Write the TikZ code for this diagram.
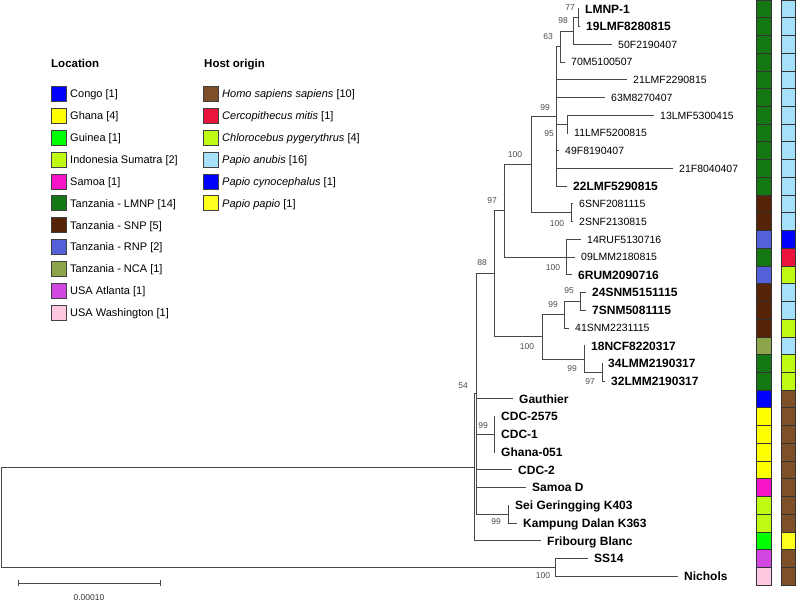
\documentclass[tikz,border=0pt]{standalone}
\usepackage{fontspec}
\setmainfont{Liberation Sans}

% location colours
\definecolor{cCongo}{RGB}{0,0,255}
\definecolor{cGhana}{RGB}{255,255,0}
\definecolor{cGuinea}{RGB}{0,255,0}
\definecolor{cSumatra}{RGB}{190,250,20}
\definecolor{cSamoa}{RGB}{245,20,200}
\definecolor{cLMNP}{RGB}{20,120,20}
\definecolor{cSNP}{RGB}{85,35,5}
\definecolor{cRNP}{RGB}{85,95,215}
\definecolor{cNCA}{RGB}{140,165,75}
\definecolor{cAtl}{RGB}{210,70,225}
\definecolor{cWash}{RGB}{255,200,225}
% host colours
\definecolor{hHomo}{RGB}{125,80,40}
\definecolor{hMitis}{RGB}{235,20,60}
\definecolor{hChloro}{RGB}{190,250,20}
\definecolor{hAnubis}{RGB}{165,225,250}
\definecolor{hCyno}{RGB}{0,0,255}
\definecolor{hPapio}{RGB}{255,255,30}

\tikzset{
  br/.style={draw=black!72, line width=0.9pt},
  lfr/.style={anchor=base west, inner sep=0pt, xshift=6pt, yshift=-3.8pt,
              font=\fontsize{10.5}{12}\selectfont},
  lfb/.style={anchor=base west, inner sep=0pt, xshift=6pt, yshift=-4.3pt,
              font=\fontsize{12}{14}\selectfont\bfseries},
  bs/.style={inner sep=0pt, font=\fontsize{8.5}{10}\selectfont, text=black!70},
  strip/.style={draw=black!80, line width=0.7pt},
  key/.style={draw=black!75, line width=0.8pt, minimum size=15pt, inner sep=0pt},
  ltxt/.style={anchor=base west, inner sep=0pt, font=\fontsize{11}{13}\selectfont},
  lhead/.style={anchor=base west, inner sep=0pt, font=\fontsize{11.5}{13}\selectfont\bfseries}
}

% tip coordinate plus its label: name, x, row, text, style
\newcommand{\treeleaf}[5]{%
  \coordinate (#1) at (#2,{17.73*(#3-0.5)});
  \node[#5] (#1-t) at (#1) {#4};}

\begin{document}
\begin{tikzpicture}[x=1pt,y=-1pt]
\useasboundingbox (0,0) rectangle (796,603);

% ---- internal nodes (x of split, y of incoming branch)
\coordinate (root) at (1,517.3);
\coordinate (n474) at (474,467.3);
\coordinate (n476) at (476,393.9);
\coordinate (n494) at (494,273.8);
\coordinate (n504) at (504,210.8);
\coordinate (n531) at (531,164.5);
\coordinate (n556) at (556,116.3);
\coordinate (n560) at (560,46.5);
\coordinate (n573) at (573,31);
\coordinate (n577) at (578,17.7);
\coordinate (n567) at (567,124.1);
\coordinate (nSNF) at (571,212.7);
\coordinate (nRUF) at (566,257);
\coordinate (n542) at (542,336.8);
\coordinate (n564) at (564,314.7);
\coordinate (n580) at (580,301.4);
\coordinate (n584) at (584,359);
\coordinate (n602) at (602,372.3);
\coordinate (nCDC) at (494,434.3);
\coordinate (nSei) at (508,514);
\coordinate (n555) at (555,567.3);

% ---- leaves
\treeleaf{LLMNP}{579}{1}{LMNP-1}{lfb}
\treeleaf{L19LMF}{580}{2}{19LMF8280815}{lfb}
\treeleaf{L50F}{612}{3}{50F2190407}{lfr}
\treeleaf{L70M}{565}{4}{70M5100507}{lfr}
\treeleaf{L21LMF}{627}{5}{21LMF2290815}{lfr}
\treeleaf{L63M}{605}{6}{63M8270407}{lfr}
\treeleaf{L13LMF}{654}{7}{13LMF5300415}{lfr}
\treeleaf{L11LMF}{568}{8}{11LMF5200815}{lfr}
\treeleaf{L49F}{559}{9}{49F8190407}{lfr}
\treeleaf{L21F}{673}{10}{21F8040407}{lfr}
\treeleaf{L22LMF}{567}{11}{22LMF5290815}{lfb}
\treeleaf{L6SNF}{573}{12}{6SNF2081115}{lfr}
\treeleaf{L2SNF}{573}{13}{2SNF2130815}{lfr}
\treeleaf{L14RUF}{581}{14}{14RUF5130716}{lfr}
\treeleaf{L09LMM}{575}{15}{09LMM2180815}{lfr}
\treeleaf{L6RUM}{572}{16}{6RUM2090716}{lfb}
\treeleaf{L24SNM}{586}{17}{24SNM5151115}{lfb}
\treeleaf{L7SNM}{586}{18}{7SNM5081115}{lfb}
\treeleaf{L41SNM}{569}{19}{41SNM2231115}{lfr}
\treeleaf{L18NCF}{585}{20}{18NCF8220317}{lfb}
\treeleaf{L34LMM}{602}{21}{34LMM2190317}{lfb}
\treeleaf{L32LMM}{605}{22}{32LMM2190317}{lfb}
\treeleaf{LGauthier}{513}{23}{Gauthier}{lfb}
\treeleaf{LCDCa}{495}{24}{CDC-2575}{lfb}
\treeleaf{LCDCb}{495}{25}{CDC-1}{lfb}
\treeleaf{LGhana}{495}{26}{Ghana-051}{lfb}
\treeleaf{LCDCc}{512}{27}{CDC-2}{lfb}
\treeleaf{LSamoa}{526}{28}{Samoa D}{lfb}
\treeleaf{LSei}{509}{29}{Sei Geringging K403}{lfb}
\treeleaf{LKampung}{517}{30}{Kampung Dalan K363}{lfb}
\treeleaf{LFribourg}{541}{31}{Fribourg Blanc}{lfb}
\treeleaf{LSS}{588}{32}{SS14}{lfb}
\treeleaf{LNichols}{678}{33}{Nichols}{lfb}

% ---- branches
\draw[br] (root) |- (n474);  \draw[br] (root) |- (n555);
\draw[br] (n474) |- (n476);  \draw[br] (n474) |- (LFribourg);
\foreach \c in {n494,LGauthier,nCDC,LCDCc,LSamoa,nSei} \draw[br] (n476) |- (\c);
\draw[br] (n494) |- (n504);  \draw[br] (n494) |- (n542);
\draw[br] (n504) |- (n531);  \draw[br] (n504) |- (nRUF);
\draw[br] (n531) |- (n556);  \draw[br] (n531) |- (nSNF);
\foreach \c in {n560,L21LMF,L63M,n567,L49F,L21F,L22LMF} \draw[br] (n556) |- (\c);
\draw[br] (n560) |- (n573);  \draw[br] (n560) |- (L70M);
\draw[br] (n573) |- (n577);  \draw[br] (n573) |- (L50F);
\draw[br] (n577) |- (LLMNP); \draw[br] (n577) |- (L19LMF);
\draw[br] (n567) |- (L13LMF); \draw[br] (n567) |- (L11LMF);
\draw[br] (nSNF) |- (L6SNF); \draw[br] (nSNF) |- (L2SNF);
\foreach \c in {L14RUF,L09LMM,L6RUM} \draw[br] (nRUF) |- (\c);
\draw[br] (n542) |- (n564);  \draw[br] (n542) |- (n584);
\draw[br] (n564) |- (n580);  \draw[br] (n564) |- (L41SNM);
\draw[br] (n580) |- (L24SNM); \draw[br] (n580) |- (L7SNM);
\draw[br] (n584) |- (L18NCF); \draw[br] (n584) |- (n602);
\draw[br] (n602) |- (L34LMM); \draw[br] (n602) |- (L32LMM);
\foreach \c in {LCDCa,LCDCb,LGhana} \draw[br] (nCDC) |- (\c);
\draw[br] (nSei) |- (LSei);  \draw[br] (nSei) |- (LKampung);
\draw[br] (n555) |- (LSS);   \draw[br] (n555) |- (LNichols);

% ---- bootstrap support values
\node[bs] (b77)  at (570,8)   {77};
\node[bs] (b98)  at (563,21)  {98};
\node[bs] (b63)  at (548,37)  {63};
\node[bs] (b99a) at (545,108) {99};
\node[bs] (b95a) at (549,134) {95};
\node[bs] (b100a) at (515,155) {100};
\node[bs] (b97a) at (492,201) {97};
\node[bs] (b100b) at (557,224) {100};
\node[bs] (b88)  at (482,263) {88};
\node[bs] (b100c) at (553,268) {100};
\node[bs] (b95b) at (569,291) {95};
\node[bs] (b99b) at (553,305) {99};
\node[bs] (b100d) at (527,347) {100};
\node[bs] (b99c) at (572,369) {99};
\node[bs] (b97b) at (590,382) {97};
\node[bs] (b54)  at (463,386) {54};
\node[bs] (b99d) at (483,426) {99};
\node[bs] (b99e) at (496,522) {99};
\node[bs] (b100e) at (543,576) {100};

% ---- scale bar
\coordinate (sbA) at (18,583);
\coordinate (sbB) at (160,583);
\draw[br, line width=0.8pt] (sbA) -- (sbB);
\draw[br, line width=0.8pt] ([yshift=3pt]sbA) -- ([yshift=-3pt]sbA);
\draw[br, line width=0.8pt] ([yshift=3pt]sbB) -- ([yshift=-3pt]sbB);
\node[bs, text=black!80] (sbl) at (89,598) {0.00010};

% ---- colour strips: location | host
\foreach \i/\cl/\ch in {
  1/cLMNP/hAnubis, 2/cLMNP/hAnubis, 3/cLMNP/hAnubis, 4/cLMNP/hAnubis,
  5/cLMNP/hAnubis, 6/cLMNP/hAnubis, 7/cLMNP/hAnubis, 8/cLMNP/hAnubis,
  9/cLMNP/hAnubis, 10/cLMNP/hAnubis, 11/cLMNP/hAnubis, 12/cSNP/hAnubis,
  13/cSNP/hAnubis, 14/cRNP/hCyno, 15/cLMNP/hMitis, 16/cRNP/hChloro,
  17/cSNP/hAnubis, 18/cSNP/hAnubis, 19/cSNP/hChloro, 20/cNCA/hAnubis,
  21/cLMNP/hChloro, 22/cLMNP/hChloro, 23/cCongo/hHomo, 24/cGhana/hHomo,
  25/cGhana/hHomo, 26/cGhana/hHomo, 27/cGhana/hHomo, 28/cSamoa/hHomo,
  29/cSumatra/hHomo, 30/cSumatra/hHomo, 31/cGuinea/hPapio, 32/cAtl/hHomo,
  33/cWash/hHomo} {
  \draw[strip, fill=\cl] (756,{17.73*(\i-1)}) rectangle (771,{17.73*\i});
  \draw[strip, fill=\ch] (781,{17.73*(\i-1)}) rectangle (795,{17.73*\i});
}

% ---- legend
\node[lhead] (locH)  at (51,67.2)  {Location};
\node[lhead] (hostH) at (204,67.2) {Host origin};
\foreach \k/\c/\t in {
  0/cCongo/{Congo [1]}, 1/cGhana/{Ghana [4]}, 2/cGuinea/{Guinea [1]},
  3/cSumatra/{Indonesia Sumatra [2]}, 4/cSamoa/{Samoa [1]},
  5/cLMNP/{Tanzania - LMNP [14]}, 6/cSNP/{Tanzania - SNP [5]},
  7/cRNP/{Tanzania - RNP [2]}, 8/cNCA/{Tanzania - NCA [1]},
  9/cAtl/{USA Atlanta [1]}, 10/cWash/{USA Washington [1]}} {
  \node[key, fill=\c] (lk\k) at (58.5,{94+21.85*\k}) {};
  \node[ltxt] (lt\k) at (70,{94+21.85*\k+3.9}) {\t};
}
\foreach \k/\c/\t in {
  0/hHomo/{\itshape Homo sapiens sapiens\upshape{} [10]},
  1/hMitis/{\itshape Cercopithecus mitis\upshape{} [1]},
  2/hChloro/{\itshape Chlorocebus pygerythrus\upshape{} [4]},
  3/hAnubis/{\itshape Papio anubis\upshape{} [16]},
  4/hCyno/{\itshape Papio cynocephalus\upshape{} [1]},
  5/hPapio/{\itshape Papio papio\upshape{} [1]}} {
  \node[key, fill=\c] (hk\k) at (210.5,{94+21.85*\k}) {};
  \node[ltxt] (ht\k) at (222,{94+21.85*\k+3.9}) {\t};
}
\end{tikzpicture}
\end{document}
